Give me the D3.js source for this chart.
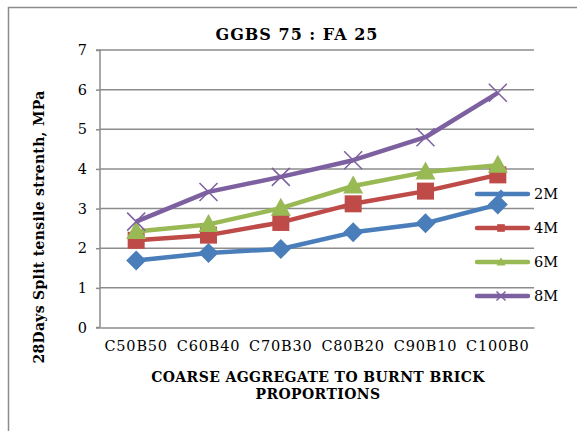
<!DOCTYPE html>
<html>
<head>
<meta charset="utf-8">
<script src="https://cdn.jsdelivr.net/npm/d3@7"></script>
<style>
  body { margin: 0; background: #fff; }
  svg { display: block; }
</style>
</head>
<body>
<svg id="chart" width="577" height="431"></svg>
<script>
// chart data
const categories = ['C50B50', 'C60B40', 'C70B30', 'C80B20', 'C90B10', 'C100B0'];
const seriesNames = ['2M', '4M', '6M', '8M'];
const values2M = [1.69, 1.88, 1.98, 2.40, 2.63, 3.10];
const values4M = [2.20, 2.33, 2.65, 3.12, 3.44, 3.85];
const values6M = [2.42, 2.60, 3.01, 3.57, 3.92, 4.09];
const values8M = [2.67, 3.42, 3.80, 4.22, 4.80, 5.92];
const yTicks = [0, 1, 2, 3, 4, 5, 6, 7];

const seriesColor = ['#4a7ebb', '#be4b48', '#98b954', '#7d60a0'];
const seriesShape = ['diamond', 'square', 'triangle', 'cross'];

const series = seriesNames.map((name, i) => ({
    name: name,
    values: [values2M, values4M, values6M, values8M][i],
    color: seriesColor[i],
    shape: seriesShape[i]
}));

const svg = d3.select('#chart');
const serif = "'DejaVu Serif', 'Liberation Serif', serif";

// outer frame
svg.append('rect')
    .attr('x', 8.5).attr('y', 7.5)
    .attr('width', 600).attr('height', 500)
    .attr('fill', 'none')
    .attr('stroke', '#8c8c8c')
    .attr('stroke-width', 1.5);

const plot = { left: 100, right: 534, top: 50, bottom: 327.5 };

const x = d3.scaleBand()
    .domain(categories)
    .range([plot.left, plot.right]);
const y = d3.scaleLinear()
    .domain([0, 7])
    .range([plot.bottom, plot.top]);

// gridlines
svg.append('g')
    .selectAll('line')
    .data(yTicks.slice(1))
    .join('line')
    .attr('x1', plot.left).attr('x2', plot.right)
    .attr('y1', d => y(d)).attr('y2', d => y(d))
    .attr('stroke', '#8c8c8c')
    .attr('stroke-width', 1.5);

// y axis
const yAxis = svg.append('g')
    .attr('transform', `translate(${plot.left},0)`)
    .call(d3.axisLeft(y).tickValues(yTicks).tickFormat(d3.format('d')).tickSize(4).tickPadding(9));
yAxis.select('.domain').attr('stroke', '#8c8c8c').attr('stroke-width', 1.5)
    .attr('d', `M-4,${plot.top}H0V${plot.bottom}H-4`);
yAxis.selectAll('.tick line').attr('stroke', '#8c8c8c').attr('stroke-width', 1.5);
yAxis.selectAll('.tick text')
    .style('font-family', serif).style('font-size', '14.5px').attr('fill', '#000');

// x axis
const xAxis = svg.append('g')
    .attr('transform', `translate(0,${plot.bottom})`)
    .call(d3.axisBottom(x).tickSize(0).tickPadding(13));
xAxis.select('.domain').attr('stroke', '#8c8c8c').attr('stroke-width', 1.5);
xAxis.selectAll('.tick text')
    .style('font-family', serif).style('font-size', '14.5px')
    .style('letter-spacing', '0.8px').attr('fill', '#000');

// titles
svg.append('text')
    .attr('x', 297).attr('y', 40)
    .attr('text-anchor', 'middle')
    .style('font-family', serif).style('font-size', '16px').style('font-weight', 'bold')
    .style('letter-spacing', '1px')
    .text('GGBS 75 : FA 25');

svg.append('text')
    .attr('transform', 'translate(44,227) rotate(-90)')
    .attr('text-anchor', 'middle')
    .style('font-family', serif).style('font-size', '14px').style('font-weight', 'bold')
    .style('letter-spacing', '0.3px')
    .text('28Days Split tensile strenth, MPa');

svg.append('text')
    .attr('x', 318).attr('y', 382)
    .attr('text-anchor', 'middle')
    .style('font-family', serif).style('font-size', '14px').style('font-weight', 'bold')
    .style('letter-spacing', '0.4px')
    .text('COARSE AGGREGATE TO BURNT BRICK');
svg.append('text')
    .attr('x', 318).attr('y', 399)
    .attr('text-anchor', 'middle')
    .style('font-family', serif).style('font-size', '14px').style('font-weight', 'bold')
    .style('letter-spacing', '0.4px')
    .text('PROPORTIONS');

// markers
function drawMarker(g, shape, color, s) {
    if (shape === 'diamond') {
        g.append('path').attr('d', `M0,${-s}L${s},0L0,${s}L${-s},0Z`).attr('fill', color);
    } else if (shape === 'square') {
        g.append('rect').attr('x', -s * 0.85).attr('y', -s * 0.85)
            .attr('width', s * 1.7).attr('height', s * 1.7).attr('fill', color);
    } else if (shape === 'triangle') {
        g.append('path').attr('d', `M0,${-s * 1.05}L${s},${s * 0.75}L${-s},${s * 0.75}Z`).attr('fill', color);
    } else {
        g.append('path').attr('d', `M${-s},${-s}L${s},${s}M${s},${-s}L${-s},${s}`)
            .attr('stroke', color).attr('stroke-width', 1.5).attr('fill', 'none');
    }
}

const line = d3.line()
    .x((d, i) => x(categories[i]) + x.bandwidth() / 2)
    .y(d => y(d));

series.forEach(s => {
    const g = svg.append('g');
    g.append('path')
        .datum(s.values)
        .attr('d', line)
        .attr('fill', 'none')
        .attr('stroke', s.color)
        .attr('stroke-width', 4.5)
        .attr('stroke-linejoin', 'round');
    g.selectAll('g.pt')
        .data(s.values)
        .join('g')
        .attr('class', 'pt')
        .attr('transform', (d, i) => `translate(${x(categories[i]) + x.bandwidth() / 2},${y(d)})`)
        .each(function() { drawMarker(d3.select(this), s.shape, s.color, s.shape === 'cross' ? 9 : 10); });
});

// legend
const legendY = d3.scalePoint().domain(seriesNames).range([194, 296]);
const legend = svg.append('g');
series.forEach(s => {
    const ly = legendY(s.name);
    legend.append('line')
        .attr('x1', 477).attr('x2', 528)
        .attr('y1', ly).attr('y2', ly)
        .attr('stroke', s.color).attr('stroke-width', 4.5)
        .attr('stroke-linecap', 'round');
    const m = legend.append('g').attr('transform', `translate(501,${ly})`);
    drawMarker(m, s.shape, s.color, 4.5);
    legend.append('text')
        .attr('x', 534).attr('y', ly + 5)
        .style('font-family', serif).style('font-size', '14.5px')
        .text(s.name);
});
</script>
</body>
</html>
